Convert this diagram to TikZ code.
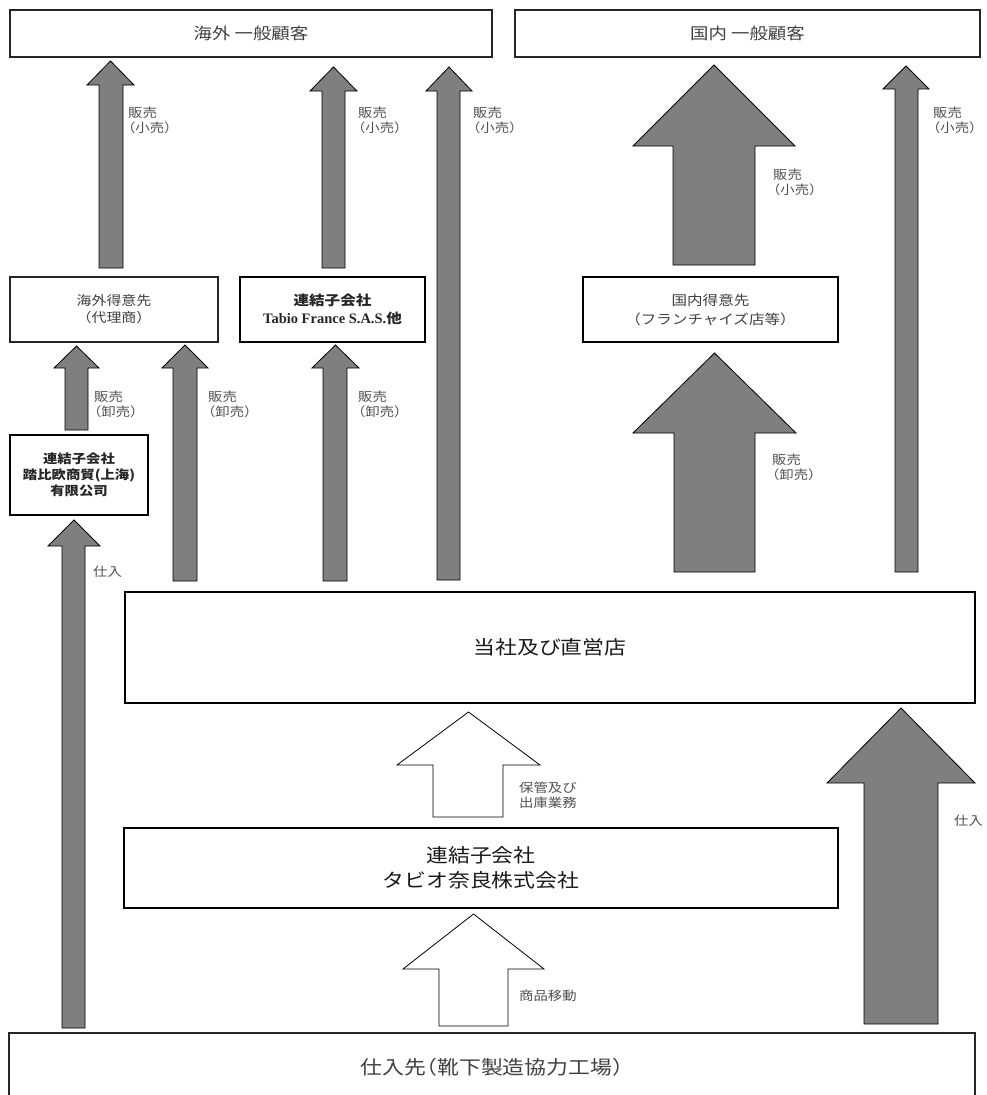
\documentclass[tikz,border=0pt]{standalone}
\usepackage{fontspec}
\setmainfont{Noto Sans CJK JP}[FakeStretch=1.15,RawFeature=+halt]
\newfontfamily\latf{Liberation Serif}
\definecolor{arrgray}{HTML}{7F7F7F}
\definecolor{labelgray}{HTML}{505050}
\definecolor{boxtext}{HTML}{404040}
\newcommand\blkarrow[8]{%
  \draw[#1] (#2,#8) -- (#2,#7) -- (#4,#7) -- ({(#4+#5)/2},#6) -- (#5,#7) -- (#3,#7) -- (#3,#8) -- cycle;}
\begin{document}
\begin{tikzpicture}[x=1pt,y=-1pt,
  thinbox/.style={draw=black!85, line width=1.3pt, fill=white, align=center, inner sep=0pt},
  thickbox/.style={draw=black, line width=2.6pt, fill=white, align=center, inner sep=0pt},
  darr/.style={fill=arrgray, draw=black, line width=0.8pt},
  warr/.style={fill=white, draw=black, line width=0.8pt},
  lbl/.style={font=\fontsize{12.5}{15}\selectfont, text=labelgray, align=left, anchor=north west, inner sep=0pt},
]
\useasboundingbox (0,0) rectangle (987,1095);
\clip (0,0) rectangle (987,1095);

% ---- arrows ----
% A: overseas distributor -> overseas customers
\blkarrow{darr}{99}{123}{87}{134}{61}{85}{268}
% B: Tabio France -> overseas customers
\blkarrow{darr}{322}{345}{310}{357}{67}{91}{268}
% C: HQ -> overseas customers
\blkarrow{darr}{437}{460}{426}{472}{67}{91}{580}
% D: domestic distributor -> domestic customers
\blkarrow{darr}{673}{755}{633}{795}{65}{146}{265}
% E: HQ -> domestic customers
\blkarrow{darr}{895}{918}{883}{929}{66}{89}{572}
% F: Shanghai -> overseas distributor
\blkarrow{darr}{65}{88}{54}{99}{346}{368}{430}
% G: HQ -> overseas distributor
\blkarrow{darr}{173}{197}{162}{208}{345}{368}{581}
% H: HQ -> Tabio France
\blkarrow{darr}{323}{347}{312}{359}{345}{368}{581}
% I: HQ -> domestic distributor
\blkarrow{darr}{674}{755}{633}{796}{353}{433}{572}
% J: supplier -> Shanghai
\blkarrow{darr}{62}{85}{48}{100}{520}{546}{1028}
% K: Nara -> HQ (white)
\blkarrow{warr}{433}{503}{397}{540}{712}{765}{817}
% L: supplier -> Nara (white)
\blkarrow{warr}{439}{508}{403}{544}{914}{969}{1026}
% M: supplier -> HQ
\blkarrow{darr}{864}{938}{827}{975}{708}{783}{1024}

% ---- boxes ----
\node[thinbox, minimum width=482pt, minimum height=47pt, text=boxtext,
      font=\fontsize{16}{19}\selectfont] (ovc) at (251,33.5) {海外 一般顧客};
\node[thinbox, minimum width=465pt, minimum height=47pt, text=boxtext,
      font=\fontsize{16}{19}\selectfont] (dmc) at (747.5,33.5) {国内 一般顧客};
\node[thinbox, minimum width=208pt, minimum height=65pt, text=boxtext,
      font=\fontsize{13}{17}\selectfont] (ovd) at (114,309.5) {海外得意先\\（代理商）};
\node[thickbox, minimum width=185pt, minimum height=65pt, text=black!85,
      font=\fontsize{13.5}{18}\selectfont\bfseries] (tfr) at (332.5,309.5)
      {連結子会社\\{\latf\bfseries\fontsize{14.5}{18}\selectfont Tabio France S.A.S.}他};
\node[thickbox, minimum width=138pt, minimum height=80pt, text=black!85,
      font=\fontsize{12.5}{16}\selectfont\bfseries] (sh) at (79,475)
      {連結子会社\\踏比欧商貿(上海)\\有限公司};
\node[thickbox, minimum width=255pt, minimum height=65pt, text=boxtext,
      font=\fontsize{13.5}{19}\selectfont] (dmd) at (710.5,309.5)
      {国内得意先\\（フランチャイズ店等）};
\node[thickbox, minimum width=850pt, minimum height=111pt, text=black!90,
      font=\fontsize{19}{24}\selectfont] (hq) at (550,647.5) {当社及び直営店};
\node[thickbox, minimum width=714pt, minimum height=80pt, text=black!90,
      font=\fontsize{19}{25}\selectfont] (nara) at (481,868)
      {連結子会社\\タビオ奈良株式会社};
\node[thinbox, line width=2pt, minimum width=966pt, minimum height=68pt, text=boxtext,
      font=\fontsize{19}{24}\selectfont] (sup) at (492,1067) {仕入先（靴下製造協力工場）};

% ---- labels ----
\node[lbl] (lA) at (128,107) {販売\\（小売）};
\node[lbl] (lB) at (358,107) {販売\\（小売）};
\node[lbl] (lC) at (473,107) {販売\\（小売）};
\node[lbl] (lE) at (933,107) {販売\\（小売）};
\node[lbl] (lD) at (773,169) {販売\\（小売）};
\node[lbl] (lF) at (94,391) {販売\\（卸売）};
\node[lbl] (lG) at (208,391) {販売\\（卸売）};
\node[lbl] (lH) at (358,391) {販売\\（卸売）};
\node[lbl] (lI) at (772,454) {販売\\（卸売）};
\node[lbl] (lJ) at (93,566) {仕入};
\node[lbl] (lK) at (519,782) {保管及び\\出庫業務};
\node[lbl] (lM) at (954,815) {仕入};
\node[lbl] (lL) at (519,990) {商品移動};
\end{tikzpicture}
\end{document}
